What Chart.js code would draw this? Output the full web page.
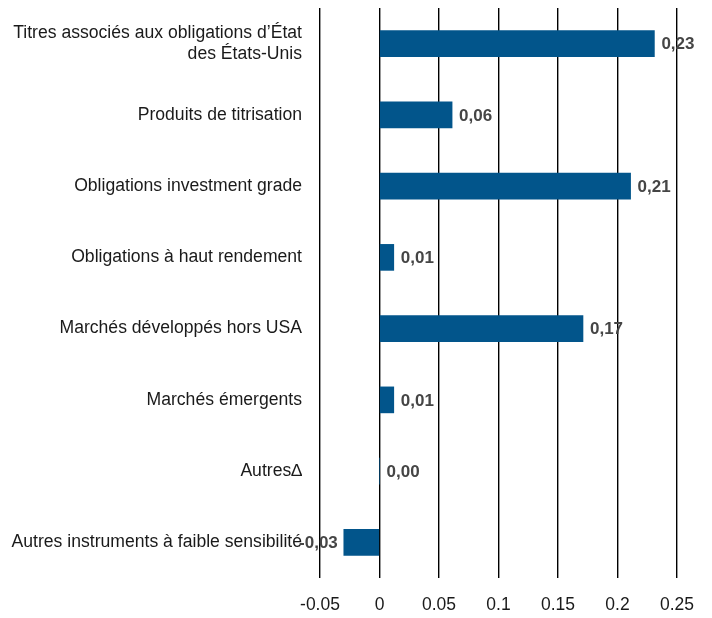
<!DOCTYPE html>
<html><head><meta charset="utf-8">
<script src="https://cdn.jsdelivr.net/npm/chart.js@4/dist/chart.umd.min.js"></script>
<style>html,body{margin:0;padding:0;background:#fff}#wrap{width:712px;height:618px}</style>
</head><body><div id="wrap"><canvas id="c" width="712" height="618"></canvas></div>
<script>
const categories = [
  ["Titres associés aux obligations d’État", "des États-Unis"],
  "Produits de titrisation",
  "Obligations investment grade",
  "Obligations à haut rendement",
  "Marchés développés hors USA",
  "Marchés émergents",
  "Autres∆",
  "Autres instruments à faible sensibilité"
];
const values = [0.231, 0.061, 0.211, 0.012, 0.171, 0.012, 0.0, -0.030];
const valueLabels = ["0,23", "0,06", "0,21", "0,01", "0,17", "0,01", "0,00", "-0,03"];
const xTicks = [-0.05, 0, 0.05, 0.1, 0.15, 0.2, 0.25];

const FONT = "'Liberation Sans Narrow', 'Arial Narrow', 'Liberation Sans', sans-serif";

const labelPlugin = {
  id: 'valueLabels',
  afterDatasetsDraw(chart) {
    const ctx = chart.ctx;
    const meta = chart.getDatasetMeta(0);
    ctx.save();
    ctx.font = "bold 17px " + FONT;
    ctx.fillStyle = '#454545';
    ctx.textBaseline = 'middle';
    meta.data.forEach((bar, i) => {
      const v = values[i];
      if (v < 0) {
        ctx.textAlign = 'right';
        ctx.fillText(valueLabels[i], bar.x - 6, bar.y + 1);
      } else {
        ctx.textAlign = 'left';
        ctx.fillText(valueLabels[i], bar.x + 7, bar.y + 1);
      }
    });
    ctx.restore();
  }
};

new Chart(document.getElementById('c'), {
  type: 'bar',
  data: {
    labels: categories,
    datasets: [{
      data: values,
      backgroundColor: '#02558b',
      borderWidth: 0,
      barThickness: 26
    }]
  },
  options: {
    indexAxis: 'y',
    responsive: false,
    animation: false,
    layout: { padding: { top: 8, right: 35, left: 0, bottom: 0 } },
    plugins: { legend: { display: false }, tooltip: { enabled: false } },
    scales: {
      x: {
        min: -0.05, max: 0.25,
        afterBuildTicks(scale) { scale.ticks = xTicks.map(v => ({ value: v })); },
        afterFit(scale) { scale.height = 40; scale.paddingLeft = 0; scale.paddingRight = 0; },
        grid: { color: '#000', lineWidth: 1.4, drawTicks: false },
        border: { display: false },
        ticks: {
          padding: 17,
          color: '#1a1a1a',
          font: { family: FONT, size: 17.5 },
          callback: (v) => String(Math.round(v * 100) / 100)
        }
      },
      y: {
        afterFit(scale) { scale.width = 320; scale.paddingTop = 0; scale.paddingBottom = 0; },
        grid: { display: false, drawTicks: false },
        border: { display: false },
        ticks: {
          padding: 18,
          color: '#1a1a1a',
          font: { family: FONT, size: 17.6 }
        }
      }
    }
  },
  plugins: [labelPlugin]
});
</script></body></html>
